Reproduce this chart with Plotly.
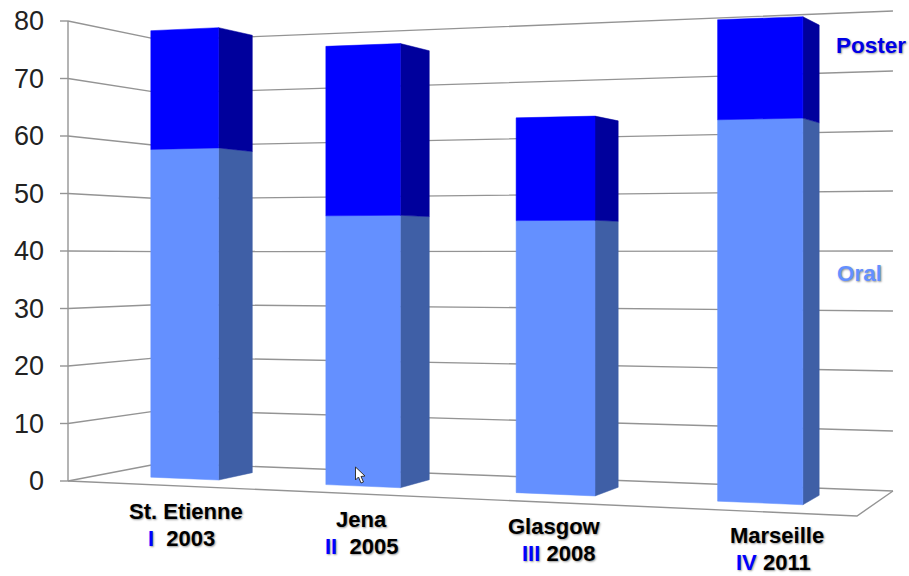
import plotly.graph_objects as go

# Conference contributions per edition
cities = ["St. Etienne", "Jena", "Glasgow", "Marseille"]
numerals = ["I", "II", "III", "IV"]
years = ["2003", "2005", "2008", "2011"]
oral = [58, 46, 45, 61]
poster = [21, 29, 17, 16]
axis_values = [0, 10, 20, 30, 40, 50, 60, 70, 80]

# Bar footprint on the chart floor (t runs along categories, d into depth)
bar_t0 = [0.080, 0.336, 0.589, 0.832]
bar_t1 = [0.182, 0.438, 0.687, 0.928]
bar_d0, bar_d1 = 0.315, 0.705

ORAL_FRONT, ORAL_SIDE = "#6490FF", "#3F5FA6"
POSTER_FRONT, POSTER_SIDE = "#0000FF", "#00009C"
GRID = "#949494"
FONT = "Liberation Sans"

# Perspective: floor plane mapped onto its on-screen quadrilateral
G, H = -0.1811, 0.0883
AX, BX, CX = 633.8, 108.3, 68.0
AY, BY, CY = -58.45, 22.88, 481.0
UNIT = 5.75
SCALE_T, SCALE_D = -0.13, 0.0883


def project(t, d, v=0.0):
    w = 1 + G * t + H * d
    x = (AX * t + BX * d + CX) / w
    y = (AY * t + BY * d + CY) / w
    return x, y - v * UNIT / (1 + SCALE_T * t + SCALE_D * d)


def polyline(points, width=1.4, color=GRID):
    xy = [project(*p) for p in points]
    return go.Scatter(x=[p[0] for p in xy], y=[p[1] for p in xy], mode="lines",
                      line=dict(color=color, width=width), hoverinfo="skip")


def face(points, color):
    xy = [project(*p) for p in points]
    return go.Scatter(x=[p[0] for p in xy], y=[p[1] for p in xy], mode="lines",
                      fill="toself", fillcolor=color, line=dict(color=color, width=0.5),
                      hoverinfo="skip")


fig = go.Figure()

# Side wall and back wall gridlines
for v in axis_values:
    fig.add_trace(polyline([(0, 0, v), (0, 1, v), (1, 1, v)]))
    x0, y0 = project(0, 0, v)
    fig.add_trace(go.Scatter(x=[x0 - 8, x0], y=[y0, y0], mode="lines",
                             line=dict(color=GRID, width=1.4), hoverinfo="skip"))

# Floor outline and value axis
fig.add_trace(polyline([(0, 0, 0), (1, 0, 0), (1, 1, 0)]))
fig.add_trace(polyline([(0, 0, 0), (0, 0, axis_values[-1])]))

# Stacked bars: front and side face of each segment
for i in range(len(cities)):
    t0, t1 = bar_t0[i], bar_t1[i]
    total = oral[i] + poster[i]
    for lo, hi, front, side in [(0, oral[i], ORAL_FRONT, ORAL_SIDE),
                                (oral[i], total, POSTER_FRONT, POSTER_SIDE)]:
        fig.add_trace(face([(t1, bar_d0, lo), (t1, bar_d1, lo), (t1, bar_d1, hi),
                            (t1, bar_d0, hi), (t1, bar_d0, lo)], side))
        fig.add_trace(face([(t0, bar_d0, lo), (t1, bar_d0, lo), (t1, bar_d0, hi),
                            (t0, bar_d0, hi), (t0, bar_d0, lo)], front))

# Category captions, stepping down with the floor edge
SHADOW = "1px 1px 2px #999"
caption_x = [186, 361, 554, 777]
caption_y = [511, 519, 526, 535]
second_x = [181, 361, 558, 773]
gaps = ["\u00a0\u00a0", "\u00a0\u00a0", "\u00a0", "\u00a0"]
annotations = []
for i in range(len(cities)):
    annotations.append(dict(x=caption_x[i], y=caption_y[i], text=f"<b>{cities[i]}</b>",
                            showarrow=False, xanchor="center", yanchor="middle",
                            font=dict(family=FONT, size=22, color="#000", shadow=SHADOW)))
    annotations.append(dict(x=second_x[i], y=caption_y[i] + 27,
                            text=f'<b><span style="color:#0000FF">{numerals[i]}</span>{gaps[i]}{years[i]}</b>',
                            showarrow=False, xanchor="center", yanchor="middle",
                            font=dict(family=FONT, size=22, color="#000", shadow=SHADOW)))

# Series names
annotations.append(dict(x=871, y=45, text="<b>Poster</b>", showarrow=False,
                        font=dict(family=FONT, size=22.5, color="#0000E6", shadow=SHADOW)))
annotations.append(dict(x=859, y=273, text="<b>Oral</b>", showarrow=False,
                        font=dict(family=FONT, size=22.5, color="#6490FF", shadow=SHADOW)))

tick_pixels = [project(0, 0, v)[1] for v in axis_values]

fig.update_layout(
    width=909, height=576, autosize=False, showlegend=False,
    paper_bgcolor="#FFFFFF", plot_bgcolor="#FFFFFF",
    margin=dict(l=45, r=0, t=0, b=0),
    annotations=annotations,
    shapes=[dict(type="path",
                 path="M355.5 467 L355.5 480 L358.5 477 L361 483 L363.5 482 L361 476.5 L365 476 Z",
                 fillcolor="#FFFFFF", line=dict(color="#333333", width=1))],
    xaxis=dict(range=[45, 909], visible=False, fixedrange=True),
    yaxis=dict(range=[576, 0], showgrid=False, zeroline=False, showline=False, fixedrange=True,
               tickmode="array", tickvals=tick_pixels, ticktext=[str(v) for v in axis_values],
               ticks="", tickfont=dict(family=FONT, size=27, color="#222222")),
)

fig.write_html("out.html", config={"displayModeBar": False})
